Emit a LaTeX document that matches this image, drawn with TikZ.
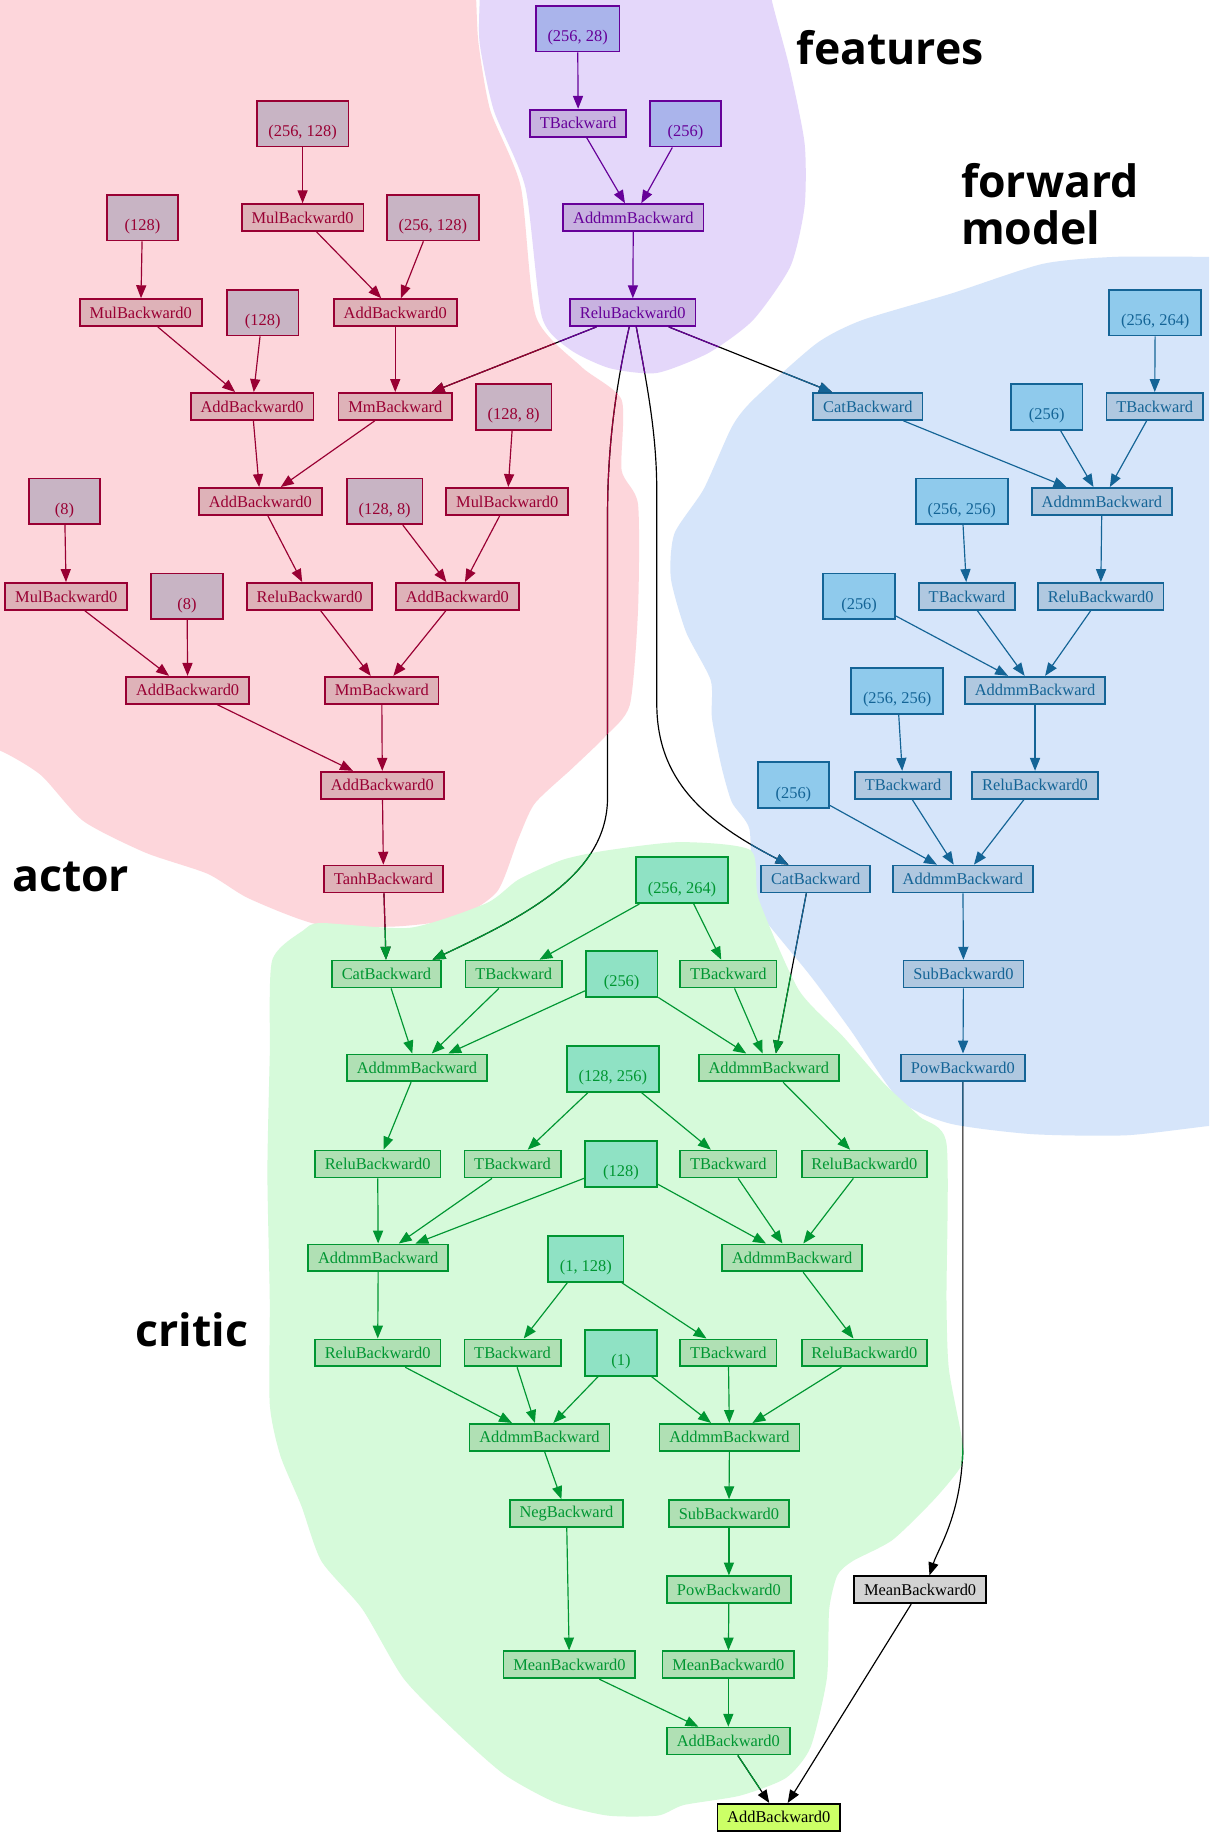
\documentclass[tikz,border=0pt]{standalone}
\usepackage{fontspec}
\setmainfont{Liberation Serif}
\newfontfamily\titlefont{Open Sans}
\usetikzlibrary{arrows.meta}
\definecolor{actline}{RGB}{153,0,51}
\definecolor{actop}{RGB}{222,178,184}
\definecolor{actprm}{RGB}{200,180,196}
\definecolor{actblob}{RGB}{253,214,219}
\definecolor{featline}{RGB}{102,0,153}
\definecolor{featop}{RGB}{200,178,224}
\definecolor{featprm}{RGB}{170,180,235}
\definecolor{featblob}{RGB}{228,215,250}
\definecolor{fwdline}{RGB}{20,100,150}
\definecolor{fwdop}{RGB}{176,200,224}
\definecolor{fwdprm}{RGB}{143,202,236}
\definecolor{fwdblob}{RGB}{214,229,250}
\definecolor{critline}{RGB}{0,150,50}
\definecolor{critop}{RGB}{176,224,180}
\definecolor{critprm}{RGB}{143,226,196}
\definecolor{critblob}{RGB}{214,250,218}
\definecolor{grayfill}{RGB}{211,211,211}
\definecolor{finalfill}{RGB}{204,255,102}
\tikzset{
  nodefont/.style={font=\fontsize{7}{8}\selectfont},
  opbox/.style={draw, rectangle, line width=0.75pt, inner xsep=4.2pt, inner ysep=0pt, minimum height=11.5pt, nodefont},
  prmbox/.style={draw, rectangle, line width=0.75pt, inner xsep=5pt, inner ysep=0pt, minimum height=19.5pt, minimum width=30.5pt, text height=11pt, text depth=0pt, nodefont},
  aop/.style={opbox, fill=actop, draw=actline, text=actline},
  aprm/.style={prmbox, fill=actprm, draw=actline, text=actline},
  fop/.style={opbox, fill=featop, draw=featline, text=featline},
  fprm/.style={prmbox, fill=featprm, draw=featline, text=featline},
  mop/.style={opbox, fill=fwdop, draw=fwdline, text=fwdline},
  mprm/.style={prmbox, fill=fwdprm, draw=fwdline, text=fwdline},
  cop/.style={opbox, fill=critop, draw=critline, text=critline},
  cprm/.style={prmbox, fill=critprm, draw=critline, text=critline},
  edge/.style={line width=0.5pt, -{Triangle[length=5.5pt,width=4.3pt]}},
  aedge/.style={edge, draw=actline},
  fedge/.style={edge, draw=featline},
  medge/.style={edge, draw=fwdline},
  cedge/.style={edge, draw=critline},
  title/.style={font=\titlefont\bfseries\fontsize{19}{20}\selectfont, inner sep=0pt, text=black},
}
\def\blobact{plot[smooth cycle,tension=0.4] coordinates {(-30,-30) (404,-30) (406,0) (408,37) (418,94) (444,159) (457,270) (496,313) (530,341) (530,401) (544,430) (544,520) (537,601) (516,628) (488,655) (456,685) (442,715) (424,760) (389,783) (336,790) (270,788) (212,766) (177,745) (124,727) (71,700) (35,661) (0,640) (-30,635)}}
\def\blobfeat{plot[smooth cycle,tension=0.4] coordinates {(410,-30) (655,-30) (658,0) (673,57) (686,122) (686,176) (674,227) (642,273) (604,301) (560,318) (520,314) (486,298) (462,270) (448,160) (421,94) (409,37) (409,0)}}
\def\blobfwd{plot[smooth cycle,tension=0.4] coordinates {(1060,219) (1031,219) (951,219) (889,225) (812,250) (735,273) (696,293) (642,341) (624,364) (600,417) (575,455) (572,493) (585,539) (606,580) (607,612) (615,653) (624,684) (639,707) (641,760) (648,779) (691,832) (725,878) (767,938) (810,958) (880,967) (960,968) (1031,960) (1060,958)}}
\def\blobcrit{plot[smooth cycle,tension=0.4] coordinates {(232,819) (259,793) (274,787) (350,791) (415,770) (442,750) (480,733) (518,725) (580,718) (640,725) (647,767) (681,844) (719,884) (754,924) (784,952) (807,975) (807,1108) (809,1167) (820,1226) (820,1249) (797,1278) (761,1313) (727,1331) (714,1343) (707,1372) (705,1431) (691,1490) (670,1516) (631,1531) (583,1539) (561,1548) (518,1548) (474,1537) (430,1513) (387,1475) (344,1431) (309,1372) (274,1331) (257,1284) (239,1241) (230,1197) (230,1108) (228,1000) (230,900)}}
\newcommand\xedge[1]{%
  \draw[edge,draw=black] #1;
  \begin{scope}\clip \blobact; \draw[aedge] #1; \end{scope}
  \begin{scope}\clip \blobfeat; \draw[fedge] #1; \end{scope}
  \begin{scope}\clip \blobfwd; \draw[medge] #1; \end{scope}
  \begin{scope}\clip \blobcrit; \draw[cedge] #1; \end{scope}
}
\begin{document}
\begin{tikzpicture}[x=0.5pt,y=-0.5pt]
\useasboundingbox (0,0) rectangle (1031,1568);
\fill[white] (0,0) rectangle (1031,1568);
\begin{scope}
\clip (0,0) rectangle (1031,1568);
\fill[actblob] \blobact;
\fill[featblob] \blobfeat;
\fill[fwdblob] \blobfwd;
\fill[critblob] \blobcrit;
\end{scope}

% titles
\node[title, anchor=base west] (t_feat) at (679,55) {features};
\node[title, anchor=north west, align=left] (t_fwd) at (819,139) {forward\\model};
\node[title, anchor=base west] (t_act) at (10,760) {actor};
\node[title, anchor=base west] (t_crit) at (115,1148) {critic};

% features
\node[fprm] (fp1) at (492.5,24.5) {(256, 28)};
\node[fop] (fT) at (493,105) {TBackward};
\node[fprm] (fp2) at (584.5,105.5) {(256)};
\node[fop] (fA) at (540,185.5) {AddmmBackward};
\node[fop] (fR) at (539.5,266.5) {ReluBackward0};

% actor
\node[aprm] (a_p1) at (258,105.5) {(256, 128)};
\node[aop] (a_mul1) at (258,185.5) {MulBackward0};
\node[aprm] (a_p2) at (121.5,185.5) {(128)};
\node[aprm] (a_p3) at (369,185.5) {(256, 128)};
\node[aop] (a_mul2) at (120,266.5) {MulBackward0};
\node[aprm] (a_p4) at (224,266.5) {(128)};
\node[aop] (a_add1) at (337,266.5) {AddBackward0};
\node[aop] (a_add2) at (215,346.5) {AddBackward0};
\node[aop] (a_mm1) at (337,346.5) {MmBackward};
\node[aprm] (a_p5) at (438,347) {(128, 8)};
\node[aprm] (a_p6) at (55,427.5) {(8)};
\node[aop] (a_add3) at (222,427.5) {AddBackward0};
\node[aprm] (a_p7) at (328,427.5) {(128, 8)};
\node[aop] (a_mul3) at (432.5,427.5) {MulBackward0};
\node[aop] (a_mul4) at (56.5,508.5) {MulBackward0};
\node[aprm] (a_p8) at (159.5,508.5) {(8)};
\node[aop] (a_relu) at (264,508.5) {ReluBackward0};
\node[aop] (a_add4) at (390,508.5) {AddBackward0};
\node[aop] (a_add5) at (160,588.5) {AddBackward0};
\node[aop] (a_mm2) at (325.5,588.5) {MmBackward};
\node[aop] (a_add6) at (326,669.5) {AddBackward0};
\node[aop] (a_tanh) at (327,749.5) {TanhBackward};

% forward model
\node[mop] (m_cat1) at (740,346.5) {CatBackward};
\node[mprm] (m_p1) at (985,266.5) {(256, 264)};
\node[mop] (m_T1) at (984.5,346.5) {TBackward};
\node[mprm] (m_p2) at (892.5,347) {(256)};
\node[mop] (m_A1) at (939.5,427.5) {AddmmBackward};
\node[mprm] (m_p3) at (820,427.5) {(256, 256)};
\node[mop] (m_T2) at (824.5,508.5) {TBackward};
\node[mop] (m_R1) at (938.5,508.5) {ReluBackward0};
\node[mprm] (m_p4) at (732.5,508.5) {(256)};
\node[mop] (m_A2) at (882.5,588.5) {AddmmBackward};
\node[mprm] (m_p5) at (765,589) {(256, 256)};
\node[mop] (m_T3) at (770,669.5) {TBackward};
\node[mop] (m_R2) at (882.5,669.5) {ReluBackward0};
\node[mprm] (m_p6) at (676.5,669.5) {(256)};
\node[mop] (m_cat2) at (695.5,749.5) {CatBackward};
\node[mop] (m_A3) at (821,749.5) {AddmmBackward};
\node[mop] (m_sub) at (821.5,830.5) {SubBackward0};
\node[mop] (m_pow) at (821,910.5) {PowBackward0};

% critic
\node[cprm] (c_p1) at (581.5,750.5) {(256, 264)};
\node[cop] (c_cat1) at (329.5,830.5) {CatBackward};
\node[cop] (c_T1) at (438,830.5) {TBackward};
\node[cprm] (c_p2) at (530,830.5) {(256)};
\node[cop] (c_T2) at (621,830.5) {TBackward};
\node[cop] (c_A1) at (355.5,910.5) {AddmmBackward};
\node[cop] (c_A2) at (655.5,910.5) {AddmmBackward};
\node[cprm] (c_p3) at (522.5,911.5) {(128, 256)};
\node[cop] (c_R1) at (322,992.5) {ReluBackward0};
\node[cop] (c_T3) at (437,992.5) {TBackward};
\node[cprm] (c_p4) at (529.5,992.5) {(128)};
\node[cop] (c_T4) at (621,992.5) {TBackward};
\node[cop] (c_R2) at (737,992.5) {ReluBackward0};
\node[cop] (c_A3) at (322.5,1072.5) {AddmmBackward};
\node[cop] (c_A4) at (675.5,1072.5) {AddmmBackward};
\node[cprm] (c_p5) at (499.5,1073.5) {(1, 128)};
\node[cop] (c_R3) at (322,1153.5) {ReluBackward0};
\node[cop] (c_T5) at (437,1153.5) {TBackward};
\node[cprm] (c_p6) at (529.5,1153.5) {(1)};
\node[cop] (c_T6) at (621,1153.5) {TBackward};
\node[cop] (c_R4) at (737,1153.5) {ReluBackward0};
\node[cop] (c_A5) at (460,1225.5) {AddmmBackward};
\node[cop] (c_A6) at (622,1225.5) {AddmmBackward};
\node[cop] (c_neg) at (483,1290.5) {NegBackward};
\node[cop] (c_sub) at (621.5,1290.5) {SubBackward0};
\node[cop] (c_pow) at (621.5,1355.5) {PowBackward0};
\node[cop] (c_mean1) at (485.5,1419.5) {MeanBackward0};
\node[cop] (c_mean2) at (621,1419.5) {MeanBackward0};
\node[cop] (c_add) at (621,1484.5) {AddBackward0};
\node[opbox, fill=grayfill, draw=black, text=black] (g_mean) at (784.5,1355.5) {MeanBackward0};
\node[opbox, fill=finalfill, draw=black, text=black] (g_add) at (664,1549.5) {AddBackward0};

% feature edges
\draw[fedge] (fp1) -- (fT);
\draw[fedge] (fT) -- (fA);
\draw[fedge] (fp2) -- (fA);
\draw[fedge] (fA) -- (fR);

% actor edges
\draw[aedge] (a_p1) -- (a_mul1);
\draw[aedge] (a_p2) -- (a_mul2);
\draw[aedge] (a_mul1) -- (a_add1);
\draw[aedge] (a_p3) -- (a_add1);
\draw[aedge] (a_mul2) -- (a_add2);
\draw[aedge] (a_p4) -- (a_add2);
\draw[aedge] (a_add1) -- (a_mm1);
\draw[aedge] (a_add2) -- (a_add3);
\draw[aedge] (a_mm1) -- (a_add3);
\draw[aedge] (a_p5) -- (a_mul3);
\draw[aedge] (a_p6) -- (a_mul4);
\draw[aedge] (a_add3) -- (a_relu);
\draw[aedge] (a_p7) -- (a_add4);
\draw[aedge] (a_mul3) -- (a_add4);
\draw[aedge] (a_mul4) -- (a_add5);
\draw[aedge] (a_p8) -- (a_add5);
\draw[aedge] (a_relu) -- (a_mm2);
\draw[aedge] (a_add4) -- (a_mm2);
\draw[aedge] (a_add5) -- (a_add6);
\draw[aedge] (a_mm2) -- (a_add6);
\draw[aedge] (a_add6) -- (a_tanh);

% forward model edges
\draw[medge] (m_cat1) -- (m_A1);
\draw[medge] (m_p2) -- (m_A1);
\draw[medge] (m_p1) -- (m_T1);
\draw[medge] (m_T1) -- (m_A1);
\draw[medge] (m_A1) -- (m_R1);
\draw[medge] (m_p3) -- (m_T2);
\draw[medge] (m_p4) -- (m_A2);
\draw[medge] (m_T2) -- (m_A2);
\draw[medge] (m_R1) -- (m_A2);
\draw[medge] (m_A2) -- (m_R2);
\draw[medge] (m_p5) -- (m_T3);
\draw[medge] (m_p6) -- (m_A3);
\draw[medge] (m_T3) -- (m_A3);
\draw[medge] (m_R2) -- (m_A3);
\draw[medge] (m_A3) -- (m_sub);
\draw[medge] (m_sub) -- (m_pow);

% critic edges
\draw[cedge] (c_p1) -- (c_T1);
\draw[cedge] (c_p1) -- (c_T2);
\draw[cedge] (c_cat1) -- (c_A1);
\draw[cedge] (c_T1) -- (c_A1);
\draw[cedge] (c_p2) -- (c_A1);
\draw[cedge] (c_p2) -- (c_A2);
\draw[cedge] (c_T2) -- (c_A2);
\draw[cedge] (c_A1) -- (c_R1);
\draw[cedge] (c_A2) -- (c_R2);
\draw[cedge] (c_p3) -- (c_T3);
\draw[cedge] (c_p3) -- (c_T4);
\draw[cedge] (c_R1) -- (c_A3);
\draw[cedge] (c_T3) -- (c_A3);
\draw[cedge] (c_p4) -- (c_A3);
\draw[cedge] (c_p4) -- (c_A4);
\draw[cedge] (c_T4) -- (c_A4);
\draw[cedge] (c_R2) -- (c_A4);
\draw[cedge] (c_A3) -- (c_R3);
\draw[cedge] (c_A4) -- (c_R4);
\draw[cedge] (c_p5) -- (c_T5);
\draw[cedge] (c_p5) -- (c_T6);
\draw[cedge] (c_R3) -- (c_A5);
\draw[cedge] (c_T5) -- (c_A5);
\draw[cedge] (c_p6) -- (c_A5);
\draw[cedge] (c_p6) -- (c_A6);
\draw[cedge] (c_T6) -- (c_A6);
\draw[cedge] (c_R4) -- (c_A6);
\draw[cedge] (c_A5) -- (c_neg);
\draw[cedge] (c_A6) -- (c_sub);
\draw[cedge] (c_sub) -- (c_pow);
\draw[cedge] (c_neg) -- (c_mean1);
\draw[cedge] (c_pow) -- (c_mean2);
\draw[cedge] (c_mean1) -- (c_add);
\draw[cedge] (c_mean2) -- (c_add);

% cross-cluster edges
\xedge{(fR) -- (a_mm1)}
\xedge{(fR) -- (m_cat1)}
\xedge{([xshift=-1.5pt]fR.south) .. controls (525,330) and (518,380) .. (518,440) -- (518,680) .. controls (518,745) and (450,780) .. ([xshift=-4pt]c_cat1.north east)}
\xedge{([xshift=1.5pt]fR.south) .. controls (552,330) and (560,370) .. (560,420) -- (560,600) .. controls (560,665) and (600,700) .. ([xshift=12pt]m_cat2.north west)}
\xedge{(a_tanh) -- (c_cat1)}
\xedge{([xshift=-4pt]m_cat2.south) -- ([xshift=3pt]c_A2.north)}
\xedge{(m_pow.south) -- (821,1230) .. controls (821,1290) and (800,1320) .. ([xshift=4pt]g_mean.north)}
\xedge{(c_add) -- (g_add)}
\xedge{(g_mean) -- (g_add)}
\end{tikzpicture}
\end{document}
